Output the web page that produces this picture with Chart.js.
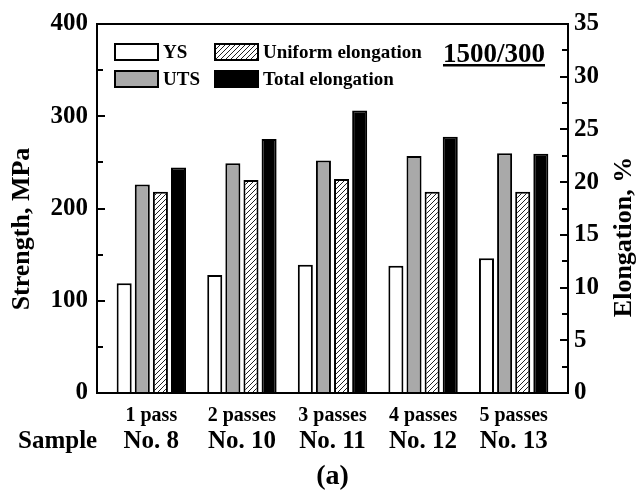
<!DOCTYPE html>
<html><head><meta charset="utf-8">
<script src="https://cdn.jsdelivr.net/npm/chart.js@4/dist/chart.umd.min.js"></script>
<style>html,body{margin:0;padding:0;background:#fff;}#wrap{width:636px;height:491px;position:relative;}</style>
</head><body><div id="wrap"><canvas id="c"></canvas></div>
<script>
// ---- data ----
const passLabels = ['1 pass', '2 passes', '3 passes', '4 passes', '5 passes'];
const sampleLabels = ['No. 8', 'No. 10', 'No. 11', 'No. 12', 'No. 13'];
const ysValues = [119, 128, 139, 138, 146];          // MPa
const utsValues = [226, 249, 252, 257, 260];         // MPa
const uniformElong = [19.1, 20.2, 20.3, 19.1, 19.1]; // %
const totalElong = [21.4, 24.1, 26.8, 24.3, 22.7];   // %
const strengthMax = 400, strengthStep = 50, strengthLabelStep = 100;
const elongMax = 35, elongStep = 2.5, elongLabelStep = 5;
const seriesNames = ['YS', 'UTS', 'Uniform elongation', 'Total elongation'];
const leftTitle = 'Strength, MPa';
const rightTitle = 'Elongation, %';

const SERIF = '"Liberation Serif", "Times New Roman", serif';
const canvas = document.getElementById('c');
const ctx0 = canvas.getContext('2d');

function hatch() {
  const s = 5;
  const c = document.createElement('canvas');
  c.width = c.height = s;
  const g = c.getContext('2d');
  g.fillStyle = '#fff'; g.fillRect(0, 0, s, s);
  g.strokeStyle = '#222'; g.lineWidth = 1;
  g.beginPath();
  g.moveTo(0, s); g.lineTo(s, 0);
  g.moveTo(-1, 1); g.lineTo(1, -1);
  g.moveTo(s - 1, s + 1); g.lineTo(s + 1, s - 1);
  g.stroke();
  return ctx0.createPattern(c, 'repeat');
}

const pts = arr => arr.map((v, i) => ({x: i + 1, y: v}));

const decor = {
  id: 'decor',
  afterDatasetsDraw(chart) {
    const {ctx, chartArea: a, scales} = chart;
    ctx.save();
    ctx.strokeStyle = '#000';
    ctx.lineWidth = 2;
    [['y', 'left'], ['y2', 'right']].forEach(([id, side]) => {
      const s = scales[id];
      s.ticks.forEach(t => {
        const py = Math.round(s.getPixelForValue(t.value));
        if (py <= a.top + 1 || py >= a.bottom - 1) return;
        const len = (t.label !== '' && t.label != null) ? 8 : 6;
        ctx.beginPath();
        if (side === 'left') { ctx.moveTo(a.left, py); ctx.lineTo(a.left + len, py); }
        else { ctx.moveTo(a.right, py); ctx.lineTo(a.right - len, py); }
        ctx.stroke();
      });
    });
    ctx.strokeRect(a.left, a.top, a.right - a.left, a.bottom - a.top);

    // legend (2 columns x 2 rows)
    const ds = chart.data.datasets;
    const order = [[0, 0, 0], [1, 0, 1], [2, 1, 0], [3, 1, 1]];
    ctx.font = 'bold 19px ' + SERIF;
    ctx.textBaseline = 'middle';
    ctx.textAlign = 'left';
    order.forEach(([di, col, row]) => {
      const bx = a.left + 18 + col * 100;
      const by = a.top + 20 + row * 27;
      ctx.fillStyle = ds[di].backgroundColor;
      ctx.fillRect(bx, by, 43, 16);
      ctx.lineWidth = 2;
      ctx.strokeRect(bx, by, 43, 16);
      ctx.fillStyle = '#000';
      ctx.fillText(ds[di].label, bx + 48, by + 9);
    });

    // 1500/300 annotation
    ctx.font = 'bold 27px ' + SERIF;
    ctx.textBaseline = 'alphabetic';
    ctx.fillText('1500/300', 443, 62);
    const w = ctx.measureText('1500/300').width;
    ctx.fillRect(443, 64, w, 2.5);

    // "Sample" label
    ctx.font = 'bold 25px ' + SERIF;
    ctx.textBaseline = 'middle';
    ctx.fillText('Sample', 18, 442);

    // axis titles (both read bottom-to-top)
    ctx.font = 'bold 26px ' + SERIF;
    ctx.textAlign = 'center';
    ctx.textBaseline = 'middle';
    [[leftTitle, 22, 229], [rightTitle, 624, 237]].forEach(([txt, x, y]) => {
      ctx.save();
      ctx.translate(x, y);
      ctx.rotate(-Math.PI / 2);
      ctx.fillText(txt, 0, 0);
      ctx.restore();
    });
    ctx.restore();
  }
};

const tickFont = {family: SERIF, size: 25, weight: 'bold'};

new Chart(canvas, {
  type: 'bar',
  data: {
    datasets: [
      {label: seriesNames[0], data: pts(ysValues), backgroundColor: '#ffffff', yAxisID: 'y'},
      {label: seriesNames[1], data: pts(utsValues), backgroundColor: '#a9a9a9', yAxisID: 'y'},
      {label: seriesNames[2], data: pts(uniformElong), backgroundColor: hatch(), yAxisID: 'y2'},
      {label: seriesNames[3], data: pts(totalElong), backgroundColor: '#000000', yAxisID: 'y2'}
    ]
  },
  options: {
    responsive: true,
    maintainAspectRatio: false,
    animation: false,
    devicePixelRatio: 1,
    layout: {padding: {top: 20, left: 0, right: 0, bottom: 0}},
    datasets: {bar: {borderColor: '#000', borderWidth: 2, categoryPercentage: 0.8, barPercentage: 0.83}},
    plugins: {legend: {display: false}, tooltip: {enabled: false}},
    scales: {
      x: {
        type: 'linear', position: 'bottom', min: 0.4, max: passLabels.length + 0.6, offset: false,
        afterBuildTicks: s => { s.ticks = passLabels.map((_, i) => ({value: i + 1})); },
        afterFit: s => { s.height = 36; },
        grid: {display: false, drawTicks: false},
        border: {display: false},
        ticks: {autoSkip: false, maxRotation: 0, padding: 11, color: '#000',
          font: {family: SERIF, size: 20, weight: 'bold', lineHeight: 1.2},
          callback: v => passLabels[v - 1] ?? ''}
      },
      x2: {
        type: 'linear', position: 'bottom', min: 0.4, max: sampleLabels.length + 0.6, offset: false,
        afterBuildTicks: s => { s.ticks = sampleLabels.map((_, i) => ({value: i + 1})); },
        afterFit: s => { s.height = 62; },
        grid: {display: false, drawTicks: false},
        border: {display: false},
        ticks: {autoSkip: false, maxRotation: 0, padding: 0, color: '#000',
          font: {family: SERIF, size: 25, weight: 'bold', lineHeight: 1},
          callback: v => sampleLabels[v - 1] ?? ''},
        title: {display: true, text: '(a)', color: '#000', padding: 0,
          font: {family: SERIF, size: 28, weight: 'bold', lineHeight: 1}}
      },
      y: {
        position: 'left', min: 0, max: strengthMax,
        afterFit: s => { s.width = 97; },
        grid: {display: false, drawTicks: false},
        border: {display: false},
        ticks: {stepSize: strengthStep, autoSkip: false, padding: 9, color: '#000', font: tickFont,
          callback: v => (v % strengthLabelStep === 0 ? String(v) : '')}
      },
      y2: {
        position: 'right', min: 0, max: elongMax,
        afterFit: s => { s.width = 68; },
        grid: {display: false, drawTicks: false},
        border: {display: false},
        ticks: {stepSize: elongStep, autoSkip: false, padding: 6, color: '#000', font: tickFont,
          callback: v => (v % elongLabelStep === 0 ? String(v) : '')}
      }
    }
  },
  plugins: [decor]
});
</script></body></html>
